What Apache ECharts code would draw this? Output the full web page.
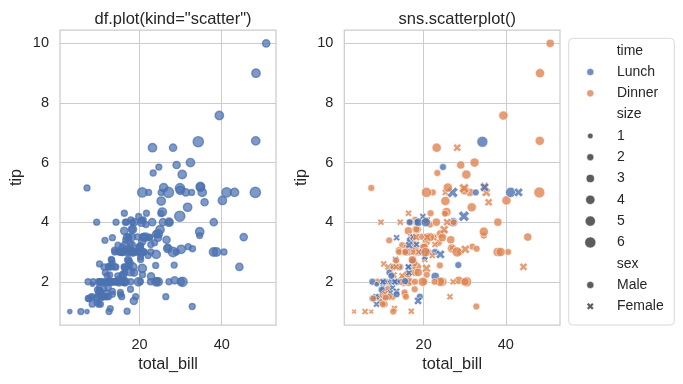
<!DOCTYPE html>
<html><head><meta charset="utf-8">
<script src="https://cdn.jsdelivr.net/npm/echarts@6/dist/echarts.min.js"></script>
<style>html,body{margin:0;padding:0;background:#fff}#c{width:683px;height:384px}</style>
</head><body><div id="c"></div>
<script>
// ---- data (tips dataset) ----
const totalBill = [
16.99,10.34,21.01,23.68,24.59,25.29,8.77,26.88,15.04,14.78,
10.27,35.26,15.42,18.43,14.83,21.58,10.33,16.29,16.97,20.65,
17.92,20.29,15.77,39.42,19.82,17.81,13.37,12.69,21.7,19.65,
9.55,18.35,15.06,20.69,17.78,24.06,16.31,16.93,18.69,31.27,
16.04,17.46,13.94,9.68,30.4,18.29,22.23,32.4,28.55,18.04,
12.54,10.29,34.81,9.94,25.56,19.49,38.01,26.41,11.24,48.27,
20.29,13.81,11.02,18.29,17.59,20.08,16.45,3.07,20.23,15.01,
12.02,17.07,26.86,25.28,14.73,10.51,17.92,27.2,22.76,17.29,
19.44,16.66,10.07,32.68,15.98,34.83,13.03,18.28,24.71,21.16,
28.97,22.49,5.75,16.32,22.75,40.17,27.28,12.03,21.01,12.46,
11.35,15.38,44.3,22.42,20.92,15.36,20.49,25.21,18.24,14.31,
14.0,7.25,38.07,23.95,25.71,17.31,29.93,10.65,12.43,24.08,
11.69,13.42,14.26,15.95,12.48,29.8,8.52,14.52,11.38,22.82,
19.08,20.27,11.17,12.26,18.26,8.51,10.33,14.15,16.0,13.16,
17.47,34.3,41.19,27.05,16.43,8.35,18.64,11.87,9.78,7.51,
14.07,13.13,17.26,24.55,19.77,29.85,48.17,25.0,13.39,16.49,
21.5,12.66,16.21,13.81,17.51,24.52,20.76,31.71,10.59,10.63,
50.81,15.81,7.25,31.85,16.82,32.9,17.89,14.48,9.6,34.63,
34.65,23.33,45.35,23.17,40.55,20.69,20.9,30.46,18.15,23.1,
15.69,19.81,28.44,15.48,16.58,7.56,10.34,43.11,13.0,13.51,
18.71,12.74,13.0,16.4,20.53,16.47,26.59,38.73,24.27,12.76,
30.06,25.89,48.33,13.27,28.17,12.9,28.15,11.59,7.74,30.14,
12.16,13.42,8.58,15.98,13.42,16.27,10.09,20.45,13.28,22.12,
24.01,15.69,11.61,10.77,15.53,10.07,12.6,32.83,35.83,29.03,
27.18,22.67,17.82,18.78];
const tip = [
1.01,1.66,3.5,3.31,3.61,4.71,2.0,3.12,1.96,3.23,
1.71,5.0,1.57,3.0,3.02,3.92,1.67,3.71,3.5,3.35,
4.08,2.75,2.23,7.58,3.18,2.34,2.0,2.0,4.3,3.0,
1.45,2.5,3.0,2.45,3.27,3.6,2.0,3.07,2.31,5.0,
2.24,2.54,3.06,1.32,5.6,3.0,5.0,6.0,2.05,3.0,
2.5,2.6,5.2,1.56,4.34,3.51,3.0,1.5,1.76,6.73,
3.21,2.0,1.98,3.76,2.64,3.15,2.47,1.0,2.01,2.09,
1.97,3.0,3.14,5.0,2.2,1.25,3.08,4.0,3.0,2.71,
3.0,3.4,1.83,5.0,2.03,5.17,2.0,4.0,5.85,3.0,
3.0,3.5,1.0,4.3,3.25,4.73,4.0,1.5,3.0,1.5,
2.5,3.0,2.5,3.48,4.08,1.64,4.06,4.29,3.76,4.0,
3.0,1.0,4.0,2.55,4.0,3.5,5.07,1.5,1.8,2.92,
2.31,1.68,2.5,2.0,2.52,4.2,1.48,2.0,2.0,2.18,
1.5,2.83,1.5,2.0,3.25,1.25,2.0,2.0,2.0,2.75,
3.5,6.7,5.0,5.0,2.3,1.5,1.36,1.63,1.73,2.0,
2.5,2.0,2.74,2.0,2.0,5.14,5.0,3.75,2.61,2.0,
3.5,2.5,2.0,2.0,3.0,3.48,2.24,4.5,1.61,2.0,
10.0,3.16,5.15,3.18,4.0,3.11,2.0,2.0,4.0,3.55,
3.68,5.65,3.5,6.5,3.0,5.0,3.5,2.0,3.5,4.0,
1.5,4.19,2.56,2.02,4.0,1.44,2.0,5.0,2.0,2.0,
4.0,2.01,2.0,2.5,4.0,3.23,3.41,3.0,2.03,2.23,
2.0,5.16,9.0,2.5,6.5,1.1,3.0,1.5,1.44,3.09,
2.2,3.48,1.92,3.0,1.58,2.5,2.0,3.0,2.72,2.88,
2.0,3.0,3.39,1.47,3.0,1.25,1.0,1.17,4.67,5.92,
2.0,2.0,1.75,3.0];
const sex = [
'F','M','M','M','F','M','M','M','M','M',
'M','F','M','M','F','M','F','M','F','M',
'M','F','F','M','M','M','M','M','M','F',
'M','M','F','F','M','M','M','F','M','M',
'M','M','M','M','M','M','M','M','M','M',
'M','F','F','M','M','M','M','F','M','M',
'M','M','M','M','M','M','F','F','M','M',
'M','F','F','F','F','M','M','M','M','M',
'M','M','F','M','M','F','M','M','M','M',
'M','M','F','F','F','M','M','M','M','M',
'F','F','F','F','F','M','M','M','M','F',
'M','F','M','M','F','F','M','F','F','F',
'M','F','M','M','F','F','M','F','F','M',
'M','F','F','F','F','F','F','F','M','F',
'F','M','M','F','F','F','F','F','M','M',
'M','M','M','M','M','F','M','F','F','M',
'M','M','F','M','F','M','M','M','F','F',
'M','M','M','M','M','M','M','M','F','M',
'M','M','M','M','M','M','F','M','F','M',
'M','F','M','M','M','M','M','F','F','M',
'M','F','F','F','M','F','M','M','M','F',
'M','M','M','F','F','F','M','M','M','F',
'M','F','M','F','M','F','F','M','M','F',
'M','M','M','M','M','M','M','M','F','M',
'F','M','M','F'];
const partySize = [
2,3,3,2,4,4,2,4,2,2,
2,4,2,4,2,2,3,3,3,3,
2,2,2,4,2,4,2,2,2,2,
2,4,2,4,2,3,3,3,3,3,
3,2,2,2,4,2,2,4,3,2,
2,2,4,2,4,2,4,2,2,4,
2,2,2,4,3,3,2,1,2,2,
2,3,2,2,2,2,2,4,2,2,
2,2,1,2,2,4,2,2,2,2,
2,2,2,2,2,4,2,2,2,2,
2,2,3,2,2,2,2,2,2,2,
2,1,3,2,3,2,4,2,2,4,
2,2,2,2,2,6,2,2,2,3,
2,2,2,2,2,2,2,2,2,2,
2,6,5,6,2,2,3,2,2,2,
2,2,3,4,4,5,6,4,2,4,
4,2,3,2,2,3,2,4,2,2,
3,2,2,2,2,2,2,2,2,2,
4,2,3,4,2,5,3,5,3,3,
2,2,2,2,2,2,2,4,2,2,
3,2,2,2,4,3,3,4,2,2,
3,4,4,2,3,2,5,2,2,4,
2,2,1,3,2,2,2,4,2,2,
4,3,2,2,2,2,2,2,3,3,
2,2,2,2];
// lunch rows (1-based ranges): 78-90, 118-150, 192-206, 221-227; others dinner
const lunchRanges = [[78,90],[118,150],[192,206],[221,227]];
const time = totalBill.map((_, i) => lunchRanges.some(r => i + 1 >= r[0] && i + 1 <= r[1]) ? 'Lunch' : 'Dinner');

const xTicks = [20, 40];
const yTicks = [2, 4, 6, 8, 10];
const hueLevels = ['Lunch', 'Dinner'];
const sizeLevels = [1, 2, 3, 4, 5, 6];
const styleLevels = ['Male', 'Female'];
const titles = ['df.plot(kind="scatter")', 'sns.scatterplot()'];

// ---- styling ----
const FONT = '"Liberation Sans", Arial, sans-serif';
const TXT = '#262626';
const BLUE = '#4c72b0', ORANGE = '#dd8452', DARK = '#333333';
const XPATH = 'path://M6,0L8,2L6,4L8,6L6,8L4,6L2,8L0,6L2,4L0,2L2,0L4,2Z';
const K = 1.3; // px per pt
const areaOf = n => 18 + (n - 1) / 5 * 54;
const sbSize = n => K * Math.sqrt(areaOf(n));
const defSize = K * 5.5;

const xmin = 3.07 - 0.05 * (50.81 - 3.07), xmax = 50.81 + 0.05 * (50.81 - 3.07);
const ymin = 1.0 - 0.05 * 9, ymax = 10.0 + 0.05 * 9;

const grids = [
  {left: 60, top: 30, width: 216, height: 295},
  {left: 344.3, top: 30, width: 215.7, height: 295}
].map(g => Object.assign(g, {show: true, borderColor: '#cccccc', borderWidth: 1.25, backgroundColor: 'transparent', containLabel: false}));

function xAx(i) {
  return {gridIndex: i, type: 'value', min: xmin, max: xmax, name: 'total_bill', nameLocation: 'middle', nameGap: 31,
    nameTextStyle: {fontSize: 16.3, color: TXT, fontFamily: FONT},
    axisLine: {show: false}, axisTick: {show: false, customValues: xTicks},
    axisLabel: {customValues: xTicks, fontSize: 14.5, color: TXT, fontFamily: FONT, margin: 12},
    splitLine: {show: true, lineStyle: {color: '#cccccc', width: 1}}};
}
function yAx(i) {
  return {gridIndex: i, type: 'value', min: ymin, max: ymax, name: 'tip', nameLocation: 'middle', nameGap: 35,
    nameTextStyle: {fontSize: 16.3, color: TXT, fontFamily: FONT},
    axisLine: {show: false}, axisTick: {show: false, customValues: yTicks},
    axisLabel: {customValues: yTicks, fontSize: 14.5, color: TXT, fontFamily: FONT, margin: 11},
    splitLine: {show: true, lineStyle: {color: '#cccccc', width: 1}}};
}

const series = [
  {name: 'df', type: 'scatter', xAxisIndex: 0, yAxisIndex: 0,
   data: totalBill.map((x, i) => [x, tip[i], partySize[i]]),
   symbolSize: v => 4.2 * Math.sqrt(v[2]),
   itemStyle: {color: BLUE, opacity: 0.72, borderColor: BLUE, borderWidth: 1.4}, emphasis: {disabled: true}, animation: false},
  {name: 'sns', type: 'scatter', xAxisIndex: 1, yAxisIndex: 1,
   data: totalBill.map((x, i) => [x, tip[i], partySize[i], i]),
   symbol: v => sex[v[3]] === 'F' ? XPATH : 'circle',
   symbolSize: v => sbSize(v[2]),
   itemStyle: {color: p => time[p.dataIndex] === 'Lunch' ? BLUE : ORANGE, borderColor: '#ffffff', borderWidth: 0.7},
   emphasis: {disabled: true}, animation: false}
];

// legend rows
const rows = [];
rows.push({name: 'time', head: true});
hueLevels.forEach((h, j) => rows.push({name: h, icon: 'circle', color: j === 0 ? BLUE : ORANGE, size: defSize}));
rows.push({name: 'size', head: true});
sizeLevels.forEach(s => rows.push({name: String(s), icon: 'circle', color: DARK, size: sbSize(s)}));
rows.push({name: 'sex', head: true});
styleLevels.forEach(s => rows.push({name: s, icon: s === 'Female' ? XPATH : 'circle', color: DARK, size: defSize}));

rows.forEach(r => series.push({name: r.name, type: 'scatter', xAxisIndex: 1, yAxisIndex: 1, data: [],
  itemStyle: {color: r.head ? 'rgba(0,0,0,0)' : r.color}}));

const ICON_CX = 590, TEXT_X = 616.7;
const legends = rows.map((r, i) => {
  const h = r.head ? 2 : r.size;
  const W = 2 * (TEXT_X - 5 - ICON_CX);
  return {
    left: ICON_CX - h / 2, top: 50.7 + i * 21.3 - 8, padding: 0, orient: 'horizontal',
    itemWidth: W, itemHeight: h, selectedMode: false,
    data: [{name: r.name, icon: r.head ? 'circle' : r.icon,
            itemStyle: r.head ? {color: 'rgba(0,0,0,0)', borderWidth: 0} : {color: r.color, borderColor: '#ffffff', borderWidth: 0.6}}],
    textStyle: {fontSize: 14, color: TXT, fontFamily: FONT, lineHeight: 16}
  };
});

const option = {
  backgroundColor: '#ffffff',
  animation: false,
  title: titles.map((t, i) => ({text: t, left: i === 0 ? 168 : 452.2, top: 6, textAlign: 'center',
    textStyle: {fontSize: 16.5, fontWeight: 'normal', color: TXT, fontFamily: FONT}})),
  grid: grids,
  xAxis: [xAx(0), xAx(1)],
  yAxis: [yAx(0), yAx(1)],
  legend: legends,
  graphic: [{type: 'rect', z: -1, shape: {x: 568.7, y: 38.3, width: 105.6, height: 286.7, r: 4},
    style: {fill: '#ffffff', stroke: '#d9d9d9', lineWidth: 1}}],
  series: series
};
const chart = echarts.init(document.getElementById('c'), null, {renderer: 'canvas'});
chart.setOption(option);
</script></body></html>
